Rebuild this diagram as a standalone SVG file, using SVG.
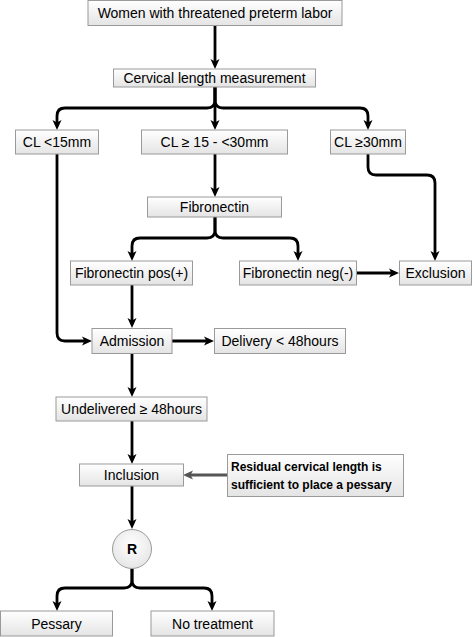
<svg xmlns="http://www.w3.org/2000/svg" width="473" height="637" viewBox="0 0 473 637">
<defs>
<linearGradient id="g" x1="0" y1="0" x2="0" y2="1">
<stop offset="0" stop-color="#ffffff"/>
<stop offset="1" stop-color="#e4e4e4"/>
</linearGradient>
<radialGradient id="gc" cx="0.5" cy="0.4" r="0.6">
<stop offset="0" stop-color="#ffffff"/>
<stop offset="1" stop-color="#e6e6e6"/>
</radialGradient>
<marker id="a" viewBox="0 0 10 10" markerWidth="10" markerHeight="10" refX="3" refY="5" orient="auto" markerUnits="userSpaceOnUse">
<path d="M0,0.5 L10,5 L0,9.5 L2.5,5 z" fill="#000"/>
</marker>
<marker id="ag" viewBox="0 0 10 10" markerWidth="10" markerHeight="10" refX="3" refY="5" orient="auto" markerUnits="userSpaceOnUse">
<path d="M0,0.5 L10,5 L0,9.5 L2.5,5 z" fill="#555"/>
</marker>
</defs>
<style>
rect.b { fill: url(#g); stroke: #9a9a9a; stroke-width: 1; }
circle.b { fill: url(#gc); stroke: #9a9a9a; stroke-width: 1; }
text { font-family: "Liberation Sans", Arial, Helvetica, sans-serif; font-size: 14px; fill: #000; text-anchor: middle; }
text.bold { font-weight: bold; font-size: 12px; text-anchor: start; }
text.r { font-weight: bold; font-size: 14px; }
.c path { fill: none; stroke: #000; stroke-width: 2.8; marker-end: url(#a); }
.c path.gray { stroke: #555; marker-end: url(#ag); }
</style>
<rect width="473" height="637" fill="#fff"/>
<g class="c" id="connectors">
<path d="M215,25.5 V62"/>
<path d="M215,87 V123"/>
<path d="M215,87 V100 Q215,108 207,108 H65 Q57,108 57,116 V123"/>
<path d="M215,87 V100 Q215,108 223,108 H360 Q368,108 368,116 V123"/>
<path d="M57,154 V333 Q57,341 65,341 H85"/>
<path d="M215,154 V190"/>
<path d="M368,154 V167 Q368,175 376,175 H427 Q435,175 435,183 V254"/>
<path d="M215,217 V230 Q215,238 207,238 H140 Q132,238 132,246 V254"/>
<path d="M215,217 V230 Q215,238 223,238 H290 Q298,238 298,246 V254"/>
<path d="M357,273 H392"/>
<path d="M132,285 V321"/>
<path d="M172,341 H207"/>
<path d="M132,353 V390"/>
<path d="M132,421 V457"/>
<path class="gray" d="M227,475 H190"/>
<path d="M132,486 V522"/>
<path d="M132,569 V580 Q132,588 124,588 H65 Q57,588 57,596 V604"/>
<path d="M132,569 V580 Q132,588 140,588 H204 Q212,588 212,596 V604"/>
</g>
<g id="women"><rect class="b" x="88" y="0.5" width="254" height="25"/><text x="215" y="18">Women with threatened preterm labor</text></g>
<g id="cervical"><rect class="b" x="113.5" y="69" width="202" height="18"/><text x="214.5" y="83">Cervical length measurement</text></g>
<g id="cl15"><rect class="b" x="15.5" y="130" width="83" height="24"/><text x="57" y="147">CL &lt;15mm</text></g>
<g id="clmid"><rect class="b" x="141.5" y="130" width="146" height="24"/><text x="214.5" y="147">CL ≥ 15 - &lt;30mm</text></g>
<g id="cl30"><rect class="b" x="330.5" y="130" width="75" height="24"/><text x="368" y="147">CL ≥30mm</text></g>
<g id="fibronectin"><rect class="b" x="147.5" y="197" width="134" height="20"/><text x="214.5" y="212">Fibronectin</text></g>
<g id="fibpos"><rect class="b" x="70.5" y="261" width="122" height="24"/><text x="131.5" y="278">Fibronectin pos(+)</text></g>
<g id="fibneg"><rect class="b" x="239.5" y="261" width="117" height="24"/><text x="298" y="278">Fibronectin neg(-)</text></g>
<g id="exclusion"><rect class="b" x="399.5" y="261" width="72" height="24"/><text x="435.5" y="278">Exclusion</text></g>
<g id="admission"><rect class="b" x="92" y="328.5" width="80" height="25"/><text x="132" y="346">Admission</text></g>
<g id="delivery"><rect class="b" x="214.5" y="328.5" width="131" height="25"/><text x="280" y="346">Delivery &lt; 48hours</text></g>
<g id="undelivered"><rect class="b" x="56" y="397" width="151" height="24"/><text x="131.5" y="414">Undelivered ≥ 48hours</text></g>
<g id="inclusion"><rect class="b" x="79.5" y="464" width="104" height="22"/><text x="131.5" y="480">Inclusion</text></g>
<g id="residual"><rect class="b" x="227.5" y="454.5" width="176" height="42"/><text class="bold" x="231" y="471">Residual cervical length is</text><text class="bold" x="231" y="489">sufficient to place a pessary</text></g>
<g id="r"><circle class="b" cx="132" cy="549" r="19.5"/><text class="r" x="132" y="554">R</text></g>
<g id="pessary"><rect class="b" x="0.5" y="611" width="112" height="25"/><text x="56.5" y="628.5">Pessary</text></g>
<g id="notreatment"><rect class="b" x="151" y="611" width="123" height="25"/><text x="212.5" y="628.5">No treatment</text></g>
</svg>
